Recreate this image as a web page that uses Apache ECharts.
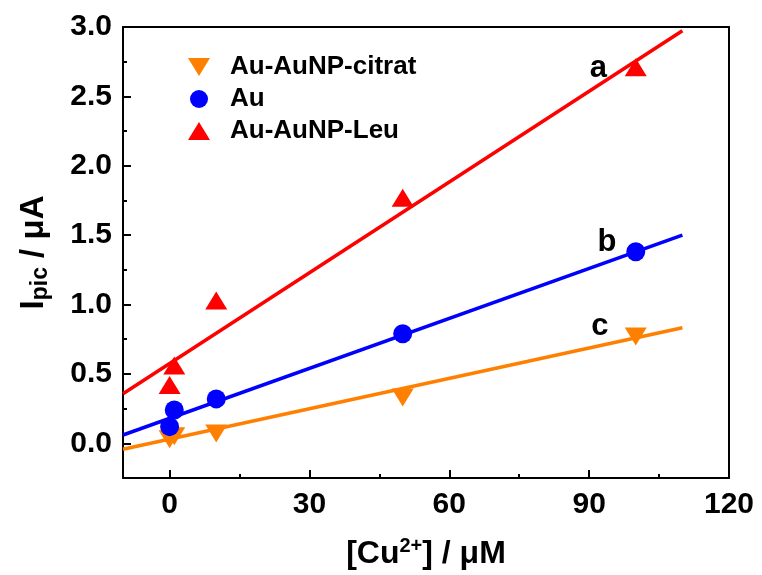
<!DOCTYPE html>
<html>
<head>
<meta charset="utf-8">
<script src="https://cdn.jsdelivr.net/npm/echarts@6/dist/echarts.min.js"></script>
<style>
html,body{margin:0;padding:0;background:#fff;}
#chart{width:762px;height:575px;}
</style>
</head>
<body>
<div id="chart"></div>
<script>
// ---- data ----
const concentrations = [0, 1, 10, 50, 100];
const citratValues = [0.03, 0.05, 0.07, 0.33, 0.77];
const auValues = [0.12, 0.24, 0.32, 0.79, 1.38];
const leuValues = [0.42, 0.56, 1.03, 1.77, 2.71];

// linear-fit lines (endpoints)
const fitX = [-10, 110];
const fitCitrat = [-0.043, 0.833];
const fitAu = [0.06, 1.50];
const fitLeu = [0.357, 2.973];

// curve labels
const curveNames = ['a', 'b', 'c'];
const curveLabelX = [92, 93.8, 92.3];
const curveLabelY = [2.70, 1.45, 0.84];

// axes
const xMajorTicks = [0, 30, 60, 90, 120];
const xMinorTicks = [15, 45, 75, 105];
const yMajorTicks = [0, 0.5, 1.0, 1.5, 2.0, 2.5, 3.0];
const yMinorTicks = [0.25, 0.75, 1.25, 1.75, 2.25, 2.75];
const xRange = [-10, 120];
const yRange = [-0.25, 3.0];

const seriesNames = ['Au-AuNP-citrat', 'Au', 'Au-AuNP-Leu'];
const colors = { citrat: '#ff8000', au: '#0000ff', leu: '#ff0000' };

const FONT = 'Liberation Sans';
const downTri = 'path://M0,0 L22,0 L11,18 Z';

function pairs(xs, ys) { return xs.map((x, i) => [x, ys[i]]); }

const chart = echarts.init(document.getElementById('chart'), null, { renderer: 'canvas' });

const axisLineStyle = { color: '#000', width: 2 };

const option = {
  backgroundColor: '#fff',
  animation: false,
  grid: { left: 123, right: 33, top: 27, bottom: 97, containLabel: false },
  legend: {
    data: [
      { name: seriesNames[0], icon: downTri },
      { name: seriesNames[1], icon: 'circle' },
      { name: seriesNames[2], icon: 'triangle' }
    ],
    orient: 'vertical',
    left: 188,
    top: 54,
    padding: 0,
    itemWidth: 22,
    itemHeight: 18,
    itemGap: 6,
    textStyle: { fontFamily: FONT, fontWeight: 'bold', fontSize: 26, color: '#000', padding: [0, 0, 0, 15] }
  },
  xAxis: [
    {
      type: 'value', position: 'bottom', min: xRange[0], max: xRange[1],
      axisLine: { show: true, onZero: false, lineStyle: axisLineStyle },
      axisTick: { show: true, inside: true, length: 8, lineStyle: { width: 2, color: '#000' }, customValues: xMajorTicks },
      axisLabel: { show: true, customValues: xMajorTicks, margin: 12, fontFamily: FONT, fontWeight: 'bold', fontSize: 30, color: '#000' },
      splitLine: { show: false },
      name: '{b|[Cu}{sup|2+}{b|] / μM}',
      nameLocation: 'middle',
      nameGap: 58,
      nameTextStyle: {
        rich: {
          b: { fontFamily: FONT, fontWeight: 'bold', fontSize: 32, color: '#000', lineHeight: 36, verticalAlign: 'middle' },
          sup: { fontFamily: FONT, fontWeight: 'bold', fontSize: 20, color: '#000', lineHeight: 16, verticalAlign: 'top' }
        }
      }
    },
    {
      type: 'value', position: 'bottom', min: xRange[0], max: xRange[1],
      axisLine: { show: false, onZero: false },
      axisTick: { show: true, inside: true, length: 4, lineStyle: { width: 2, color: '#000' }, customValues: xMinorTicks },
      axisLabel: { show: false },
      splitLine: { show: false }
    },
    {
      type: 'value', position: 'top', min: xRange[0], max: xRange[1],
      axisLine: { show: true, onZero: false, lineStyle: axisLineStyle },
      axisTick: { show: false }, axisLabel: { show: false }, splitLine: { show: false }
    }
  ],
  yAxis: [
    {
      type: 'value', position: 'left', min: yRange[0], max: yRange[1],
      axisLine: { show: true, onZero: false, lineStyle: axisLineStyle },
      axisTick: { show: true, inside: true, length: 8, lineStyle: { width: 2, color: '#000' }, customValues: yMajorTicks },
      axisLabel: {
        show: true, customValues: yMajorTicks, margin: 11,
        fontFamily: FONT, fontWeight: 'bold', fontSize: 30, color: '#000',
        formatter: v => v.toFixed(1)
      },
      splitLine: { show: false },
      name: '{b|I}{sub|pic}{b| / μA}',
      nameLocation: 'middle',
      nameGap: 71,
      nameRotate: 90,
      nameTextStyle: {
        rich: {
          b: { fontFamily: FONT, fontWeight: 'bold', fontSize: 33, color: '#000', lineHeight: 36, verticalAlign: 'middle' },
          sub: { fontFamily: FONT, fontWeight: 'bold', fontSize: 23, color: '#000', lineHeight: 16, verticalAlign: 'bottom' }
        }
      }
    },
    {
      type: 'value', position: 'left', min: yRange[0], max: yRange[1],
      axisLine: { show: false, onZero: false },
      axisTick: { show: true, inside: true, length: 4, lineStyle: { width: 2, color: '#000' }, customValues: yMinorTicks },
      axisLabel: { show: false },
      splitLine: { show: false }
    },
    {
      type: 'value', position: 'right', min: yRange[0], max: yRange[1],
      axisLine: { show: true, onZero: false, lineStyle: axisLineStyle },
      axisTick: { show: false }, axisLabel: { show: false }, splitLine: { show: false }
    }
  ],
  series: [
    {
      name: 'fit-citrat', type: 'line', data: pairs(fitX, fitCitrat), symbol: 'none',
      lineStyle: { color: colors.citrat, width: 3.5 }, z: 2, silent: true
    },
    {
      name: 'fit-au', type: 'line', data: pairs(fitX, fitAu), symbol: 'none',
      lineStyle: { color: colors.au, width: 3.5 }, z: 2, silent: true
    },
    {
      name: 'fit-leu', type: 'line', data: pairs(fitX, fitLeu), symbol: 'none',
      lineStyle: { color: colors.leu, width: 3.5 }, z: 2, silent: true
    },
    {
      name: seriesNames[0], type: 'scatter', data: pairs(concentrations, citratValues),
      symbol: downTri, symbolSize: [22, 18], itemStyle: { color: colors.citrat, opacity: 1 }, z: 3
    },
    {
      name: seriesNames[1], type: 'scatter', data: pairs(concentrations, auValues),
      symbol: 'circle', symbolSize: 19, itemStyle: { color: colors.au, opacity: 1 }, z: 4
    },
    {
      name: seriesNames[2], type: 'scatter', data: pairs(concentrations, leuValues),
      symbol: 'triangle', symbolSize: [22, 18], itemStyle: { color: colors.leu, opacity: 1 }, z: 3
    },
    {
      name: 'curve-labels', type: 'scatter', symbol: 'circle', symbolSize: 0.01,
      itemStyle: { color: '#000', opacity: 1 },
      data: curveNames.map((n, i) => ({ name: n, value: [curveLabelX[i], curveLabelY[i]] })),
      label: {
        show: true, position: 'inside', formatter: p => p.name,
        fontFamily: FONT, fontWeight: 'bold', fontSize: 31, color: '#000',
        textBorderWidth: 0, opacity: 1
      },
      z: 5, silent: true
    }
  ]
};

chart.setOption(option);
</script>
</body>
</html>
